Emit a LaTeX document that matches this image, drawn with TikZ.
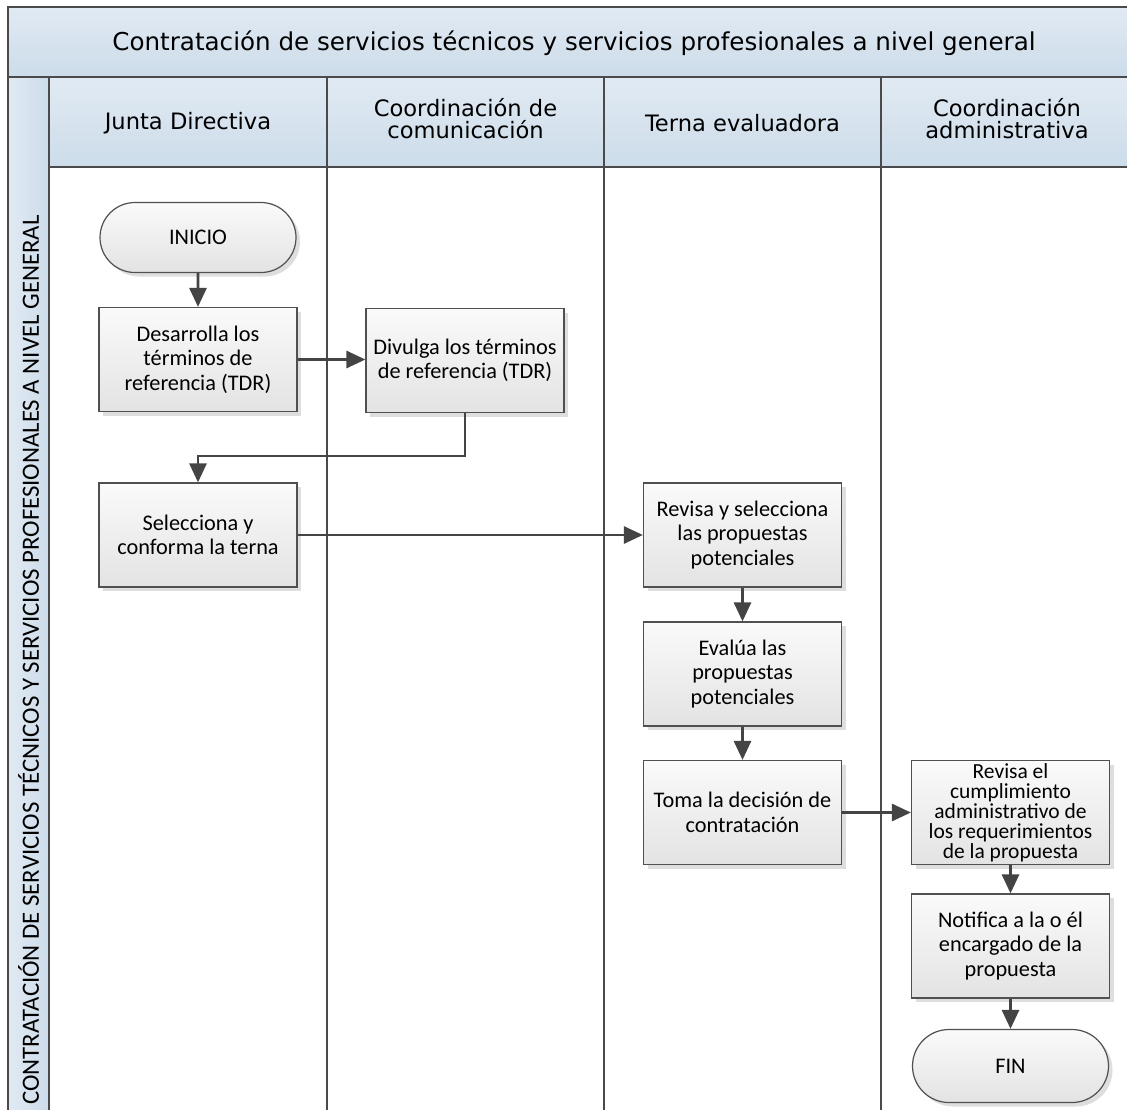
\documentclass[tikz,border=0pt]{standalone}
\usepackage{fontspec}
\setmainfont{Carlito}
\newfontfamily\hdrfont{DejaVu Sans}
\usetikzlibrary{shapes.misc,arrows.meta,shadows}
\definecolor{hdrtop}{HTML}{E1EAF3}
\definecolor{hdrbot}{HTML}{CCDCEA}
\definecolor{lanecol}{HTML}{4A4A4A}
\definecolor{boxline}{HTML}{505050}
\definecolor{boxtop}{HTML}{FAFAFA}
\definecolor{boxbot}{HTML}{E3E3E3}
\definecolor{arrcol}{HTML}{444444}
\tikzset{
  lane/.style={draw=lanecol,line width=2.4pt},
  hdr/.style={lane,top color=hdrtop,bottom color=hdrbot},
  hdrtext/.style={font=\hdrfont\fontsize{22.6}{22}\selectfont,align=center,inner sep=0pt},
  pbox/.style={draw=boxline,line width=1.2pt,top color=boxtop,bottom color=boxbot,
    minimum width=198pt,minimum height=104pt,align=center,inner sep=2pt,
    font=\fontsize{22.3}{24.5}\selectfont,
    drop shadow={shadow xshift=4pt,shadow yshift=-4pt,fill=black!13,opacity=1}},
  term/.style={pbox,rounded rectangle,minimum width=200pt,minimum height=70pt},
  arr/.style={draw=arrcol,line width=2.8pt,-{Triangle[length=19pt,width=17pt]}},
}
\begin{document}
\begin{tikzpicture}[x=1pt,y=-1pt]
\useasboundingbox (0,0) rectangle (1127,1109);
\clip (0,0) rectangle (1127,1109);
% title band
\path[hdr] (8,7) rectangle (1140,77);
\node[hdrtext,font=\hdrfont\fontsize{24.6}{26}\selectfont] (title) at (574,43) {Contratación de servicios técnicos y servicios profesionales a nivel general};
% left band
\path[lane,left color=hdrtop,right color=hdrbot] (8,77) rectangle (49,1120);
\node[rotate=90,inner sep=0pt,font=\fontsize{24.8}{26}\selectfont] (side) at (28.5,660) {CONTRATACIÓN DE SERVICIOS TÉCNICOS Y SERVICIOS PROFESIONALES A NIVEL GENERAL};
% lane bodies
\path[lane,fill=white] (49,167) rectangle (327,1120);
\path[lane,fill=white] (327,167) rectangle (604,1120);
\path[lane,fill=white] (604,167) rectangle (881,1120);
\path[lane,fill=white] (881,167) rectangle (1140,1120);
% headers
\path[hdr] (49,77) rectangle (327,167);
\path[hdr] (327,77) rectangle (604,167);
\path[hdr] (604,77) rectangle (881,167);
\path[hdr] (881,77) rectangle (1140,167);
\node[hdrtext] (h1) at (188,123) {Junta Directiva};
\node[hdrtext] (h2) at (465.5,119) {Coordinación de\\comunicación};
\node[hdrtext] (h3) at (742.5,123) {Terna evaluadora};
\node[hdrtext] (h4) at (1007,119) {Coordinación\\administrativa};
% process nodes
\node[term] (inicio) at (198,237.5) {INICIO};
\node[pbox] (desarrolla) at (198,359.5) {Desarrolla los\\términos de\\referencia (TDR)};
\node[pbox] (divulga) at (465,360.5) {Divulga los términos\\de referencia (TDR)};
\node[pbox] (selecciona) at (198,535) {Selecciona y\\conforma la terna};
\node[pbox] (revisa) at (742.5,535) {Revisa y selecciona\\las propuestas\\potenciales};
\node[pbox] (evalua) at (742.5,674) {Evalúa las\\propuestas\\potenciales};
\node[pbox] (toma) at (742.5,812.5) {Toma la decisión de\\contratación};
\node[pbox,font=\fontsize{21.5}{20}\selectfont] (cumpl) at (1010.5,812.5) {Revisa el\\cumplimiento\\administrativo de\\los requerimientos\\de la propuesta};
\node[pbox] (notifica) at (1010.5,946) {Notifica a la o él\\encargado de la\\propuesta};
\node[term,minimum height=73pt] (fin) at (1010.5,1066) {FIN};
% connectors
\coordinate (turn) at (465,456);
\draw[arr] (inicio) -- (desarrolla);
\draw[arr] (desarrolla.east) -- (divulga.west |- desarrolla.east);
\draw[arr] (divulga.south) -- (turn) -| (selecciona.north);
\draw[arr] (selecciona.east) -- (revisa.west);
\draw[arr] (revisa) -- (evalua);
\draw[arr] (evalua) -- (toma);
\draw[arr] (toma.east) -- (cumpl.west);
\draw[arr] (cumpl) -- (notifica);
\draw[arr] (notifica) -- (fin);
\end{tikzpicture}
\end{document}
